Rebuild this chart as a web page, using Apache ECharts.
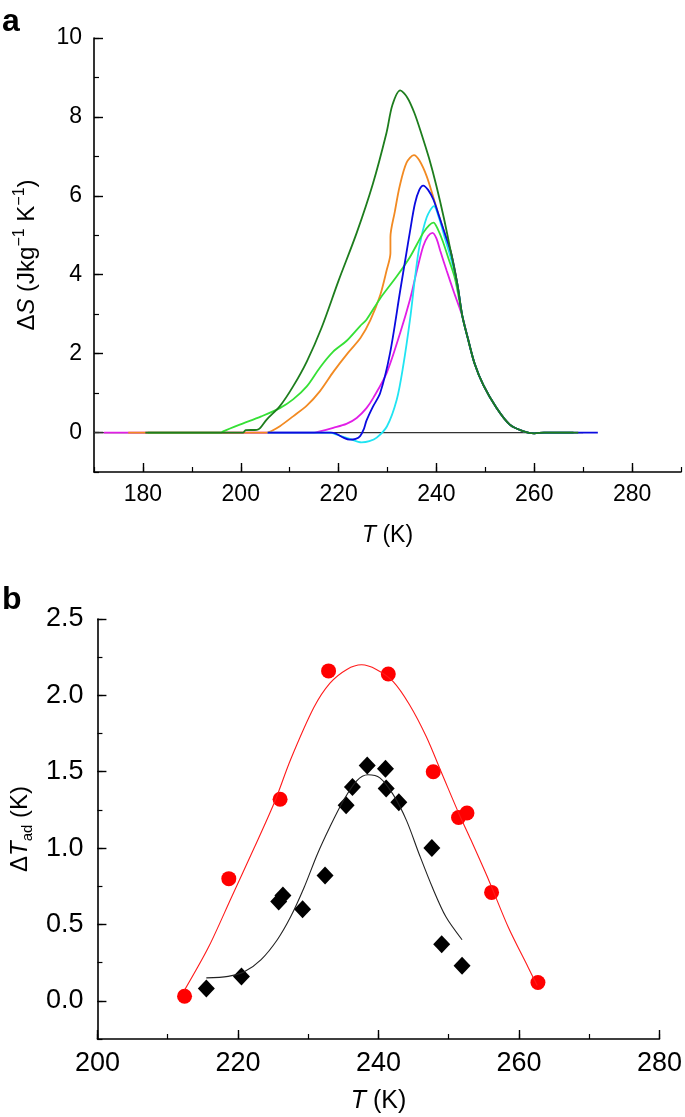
<!DOCTYPE html>
<html><head><meta charset="utf-8">
<script src="https://cdn.jsdelivr.net/npm/echarts@6/dist/echarts.min.js"></script>
<style>html,body{margin:0;padding:0;background:#fff}#c{width:685px;height:1117px}</style>
</head><body><div id="c"></div>
<script>
// ---------- Panel a data: entropy change vs temperature ----------
var zeroLine = [[170,0],[270,0]];
var magenta = [[172,0],[215,0],[216.2,0.03],[218.9,0.12],[221.6,0.22],[223.7,0.37],[225.7,0.62],[227.1,0.88],[229.8,1.5],[232.6,2.53],[234.6,3.37],[236,4.1],[237.3,4.72],[238.3,4.98],[239.2,5.06],[240,4.92],[240.8,4.6],[242.1,4.1],[243.6,3.55],[245.3,2.95],[246.5,2.35],[247.8,1.75],[249.6,1.2],[252.3,0.62],[255,0.2],[257.8,0.03],[260,-0.02],[262,0],[268,0]];
var orange = [[177,0],[205.5,0],[206.3,0.04],[208,0.16],[210.7,0.41],[213.5,0.68],[216.2,1.05],[219,1.55],[221.8,2.0],[224.5,2.4],[226.5,2.85],[228.5,3.48],[229.8,4.1],[230.6,4.55],[230.6,4.95],[231.5,5.6],[232.5,6.25],[233.9,6.84],[235.4,7.03],[236.5,6.9],[238,6.5],[239.4,5.95],[240.5,5.5],[241.7,5.05],[243,4.55],[244.3,3.75],[245.3,2.95],[246.5,2.35],[247.8,1.75],[249.6,1.2],[252.3,0.62],[255,0.2],[257.8,0.03],[260,-0.02],[262,0],[268,0]];
var cyan = [[205.5,0],[218.2,0],[219.6,-0.05],[222.3,-0.16],[224.7,-0.25],[226.3,-0.22],[227.8,-0.13],[229.9,0.16],[231.9,0.84],[233.2,1.68],[234.6,2.86],[235.6,3.9],[236.5,4.7],[238,5.45],[239.5,5.74],[240.5,5.45],[241.8,4.9],[243,4.4],[244.3,3.75],[245.3,2.95],[246.5,2.35],[247.8,1.75],[249.6,1.2],[252.3,0.62],[255,0.2],[257.8,0.03],[260,-0.02],[262,0],[268,0]];
var lightGreen = [[181,0],[196,0],[196.4,0.03],[199.8,0.2],[204.2,0.41],[208,0.62],[210.7,0.84],[213.5,1.17],[216.2,1.65],[218.9,2.05],[221.6,2.32],[224.4,2.7],[225.7,2.86],[228.5,3.4],[231.9,3.96],[234.6,4.45],[237.3,5.06],[238.5,5.25],[239.4,5.32],[240.3,5.15],[241.3,4.85],[242.5,4.4],[243.8,3.9],[245.3,2.95],[246.5,2.35],[247.8,1.75],[249.6,1.2],[252.3,0.62],[255,0.2],[257.8,0.03],[260,-0.02],[262,0],[268,0]];
var blue = [[205.5,0],[218.5,0],[219.5,-0.03],[221,-0.13],[222.3,-0.18],[223.5,-0.16],[224.4,-0.09],[225.2,0.1],[225.7,0.3],[227,0.65],[228.5,1.0],[230.5,2.0],[232.6,3.6],[233.8,4.5],[234.6,5.1],[235.6,5.8],[236.5,6.15],[237.3,6.26],[238.3,6.15],[239.4,5.9],[240.5,5.5],[241.7,5.05],[243,4.55],[244.3,3.75],[245.3,2.95],[246.5,2.35],[247.8,1.75],[249.6,1.2],[252.3,0.62],[255,0.2],[257.8,0.03],[260,-0.02],[262,0],[273,0]];
var darkGreen = [[180.5,0],[200.5,0],[201,0.06],[203.3,0.07],[204,0.12],[205.3,0.33],[208,0.67],[210.7,1.17],[213.5,1.8],[216.5,2.65],[220,3.85],[223.7,5.06],[227,6.3],[229.8,7.6],[231,8.3],[232.6,8.67],[234,8.5],[235.5,8.1],[237,7.55],[238.5,6.95],[240,6.25],[241.5,5.45],[243,4.55],[244.3,3.75],[245.3,2.95],[246.5,2.35],[247.8,1.75],[249.6,1.2],[252.3,0.62],[255,0.2],[257.8,0.03],[260,-0.02],[262,0],[269,0]];

var aXMajorTicks = [180,200,220,240,260,280];
var aYMajorTicks = [0,2,4,6,8,10];

// ---------- Panel b data: adiabatic temperature change ----------
var redPoints = [[212.4,0.03],[218.7,0.80],[226,1.32],[232.9,2.16],[241.4,2.14],[247.8,1.50],[251.4,1.20],[252.6,1.23],[256.1,0.71],[262.7,0.12]];
var redFit = [[212.4,0.07],[215.8,0.35],[219.1,0.68],[222.3,1.0],[225.2,1.3],[227.5,1.58],[230.8,1.92],[233.1,2.08],[235.5,2.17],[237.6,2.2],[239.7,2.17],[242.1,2.09],[244.4,1.94],[246.8,1.73],[249.1,1.48],[251.5,1.22],[253,1.07],[255.7,0.79],[258.5,0.48],[261.3,0.22],[262.6,0.1]];
var blackPoints = [[215.5,0.08],[220.5,0.16],[225.8,0.65],[226.4,0.69],[229.2,0.60],[232.4,0.82],[235.4,1.28],[236.3,1.40],[238.4,1.54],[241.0,1.52],[241.1,1.39],[242.9,1.30],[247.6,1.00],[249.0,0.37],[251.9,0.23]];
var blackFit = [[215.5,0.15],[218.6,0.16],[220.9,0.19],[223.3,0.27],[225.6,0.4],[227.5,0.55],[229.4,0.74],[231.3,0.96],[233.1,1.14],[235,1.31],[236.9,1.44],[238.5,1.48],[240.2,1.46],[242.1,1.35],[244,1.18],[245.8,0.96],[247.7,0.74],[249.6,0.55],[251.9,0.40]];

var bYMajorTicks = [0,0.5,1.0,1.5,2.0,2.5];

var FONT = "'Liberation Sans', Arial, Helvetica, sans-serif";
var chart = echarts.init(document.getElementById('c'), null, {renderer:'canvas'});

function lineSeries(data, color, w, xi, yi) {
  return {type:'line', data:data, xAxisIndex:xi, yAxisIndex:yi, showSymbol:false, symbol:'none',
    smooth:0.3, lineStyle:{color:color, width:w}, animation:false, silent:true};
}
function majorAxis(o) {
  return Object.assign({type:'value', splitLine:{show:false},
    axisLine:{show:true, onZero:false, lineStyle:{color:'#000', width:1.6}},
    axisTick:{show:true, inside:true, length:9, lineStyle:{color:'#000', width:1.4}},
    nameTextStyle:{fontFamily:FONT, color:'#000'}}, o);
}
function minorAxis(o) {
  return Object.assign({type:'value', splitLine:{show:false}, axisLine:{show:false, onZero:false},
    axisLabel:{show:false},
    axisTick:{show:true, inside:true, length:5, lineStyle:{color:'#000', width:1.2}}}, o);
}
var labelA = {fontFamily:FONT, fontSize:23, color:'#000'};
var labelB = {fontFamily:FONT, fontSize:27, color:'#000'};

var option = {
  backgroundColor:'#fff',
  animation:false,
  grid:[
    {left:94, top:38, width:587, height:434},
    {left:95, top:619, width:568, height:420}
  ],
  xAxis:[
    majorAxis({gridIndex:0, position:'bottom', min:170, max:290,
      axisTick:{show:true, inside:true, length:9, customValues:aXMajorTicks, lineStyle:{color:'#000', width:1.4}},
      axisLabel:Object.assign({customValues:aXMajorTicks, margin:11}, labelA),
      name:'{i|T}{n| (K)}', nameLocation:'middle', nameGap:52,
      nameTextStyle:{rich:{i:{fontFamily:FONT, fontSize:23, fontStyle:'italic', color:'#000'}, n:{fontFamily:FONT, fontSize:23, color:'#000'}}}}),
    minorAxis({gridIndex:0, position:'bottom', min:170, max:290, interval:10}),
    majorAxis({gridIndex:1, position:'bottom', min:200, max:280, interval:20,
      axisLabel:Object.assign({margin:11}, labelB),
      name:'{i|T}{n| (K)}', nameLocation:'middle', nameGap:50,
      nameTextStyle:{rich:{i:{fontFamily:FONT, fontSize:25, fontStyle:'italic', color:'#000'}, n:{fontFamily:FONT, fontSize:25, color:'#000'}}}}),
    minorAxis({gridIndex:1, position:'bottom', min:200, max:280, interval:10})
  ],
  yAxis:[
    majorAxis({gridIndex:0, position:'left', min:-1, max:10,
      axisTick:{show:true, inside:true, length:9, customValues:aYMajorTicks, lineStyle:{color:'#000', width:1.4}},
      axisLabel:Object.assign({customValues:aYMajorTicks, margin:12}, labelA),
      name:'{n|Δ}{i|S}{n| (Jkg}{s|−1}{n| K}{s|−1}{n|)}', nameLocation:'middle', nameGap:52, nameRotate:90,
      nameTextStyle:{rich:{
        i:{fontFamily:FONT, fontSize:24, fontStyle:'italic', color:'#000', lineHeight:30},
        n:{fontFamily:FONT, fontSize:24, color:'#000', lineHeight:30},
        s:{fontFamily:FONT, fontSize:16, color:'#000', verticalAlign:'top', lineHeight:18}}}}),
    minorAxis({gridIndex:0, position:'left', min:-1, max:10, interval:1}),
    majorAxis({gridIndex:1, position:'left', min:-0.25, max:2.5,
      axisTick:{show:true, inside:true, length:9, customValues:bYMajorTicks, lineStyle:{color:'#000', width:1.4}},
      axisLabel:Object.assign({customValues:bYMajorTicks, margin:14, formatter:function(v){return v.toFixed(1);}}, labelB),
      name:'{n|Δ}{i|T}{b|ad}{n| (K)}', nameLocation:'middle', nameGap:62, nameRotate:90,
      nameTextStyle:{rich:{
        i:{fontFamily:FONT, fontSize:24, fontStyle:'italic', color:'#000', lineHeight:30},
        n:{fontFamily:FONT, fontSize:24, color:'#000', lineHeight:30},
        b:{fontFamily:FONT, fontSize:15, color:'#000', verticalAlign:'bottom', lineHeight:18}}}}),
    minorAxis({gridIndex:1, position:'left', min:-0.25, max:2.5, interval:0.25})
  ],
  graphic:[
    {type:'text', left:2, top:6, style:{text:'a', fontFamily:FONT, fontSize:32, fontWeight:'bold', fill:'#000'}},
    {type:'text', left:2, top:584, style:{text:'b', fontFamily:FONT, fontSize:32, fontWeight:'bold', fill:'#000'}}
  ],
  series:[
    lineSeries(zeroLine, '#333333', 1.2, 0, 0),
    lineSeries(magenta, '#e11ee6', 1.8, 0, 0),
    lineSeries(orange, '#f28a22', 1.8, 0, 0),
    lineSeries(cyan, '#20e4f2', 1.8, 0, 0),
    lineSeries(lightGreen, '#35e035', 1.8, 0, 0),
    lineSeries(blue, '#0a0ae0', 1.8, 0, 0),
    lineSeries(darkGreen, '#1d7d1d', 1.8, 0, 0),
    lineSeries(redFit, '#ff1a1a', 1.1, 2, 2),
    lineSeries(blackFit, '#222222', 1.1, 2, 2),
    {type:'scatter', data:redPoints, xAxisIndex:2, yAxisIndex:2, symbol:'circle', symbolSize:15,
      itemStyle:{color:'#ff0000', opacity:1}, silent:true},
    {type:'scatter', data:blackPoints, xAxisIndex:2, yAxisIndex:2, symbol:'diamond', symbolSize:[17,18],
      itemStyle:{color:'#000', opacity:1}, silent:true}
  ]
};
chart.setOption(option);
</script></body></html>
